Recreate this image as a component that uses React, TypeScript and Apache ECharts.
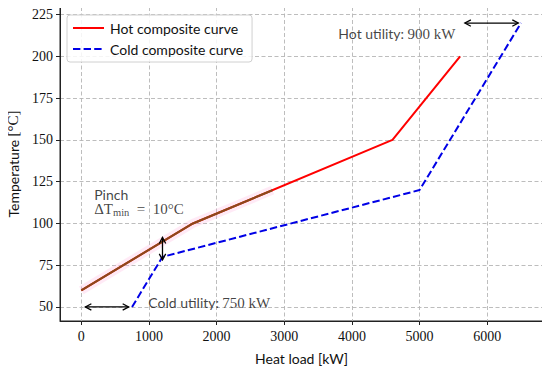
import React, { useEffect, useRef } from "react";
import * as echarts from "echarts";

// Composite curves [heat load kW, temperature °C]
const hotCurve: [number, number][] = [
  [0, 60],
  [1650, 100],
  [4600, 150],
  [5600, 200],
];
const coldCurve: [number, number][] = [
  [750, 50],
  [1200, 80],
  [5000, 120],
  [6500, 220],
];
// brown overlay on the lower part of the hot curve
const brownOverlay: [number, number][] = [
  [0, 60],
  [1650, 100],
  [2825, 119.9],
];
// double arrows [x1, y1, x2, y2]
const arrows: [number, number, number, number][] = [
  [5670, 220, 6460, 220],
  [60, 50, 700, 50],
  [1200, 91.6, 1200, 78.2],
];
// annotation anchors (left-middle of text)
const annotationAnchors: [number, number][] = [
  [3800, 213.6],
  [990, 52.4],
  [190, 113.0],
];
const annotationTexts = [
  "{s|Hot utility:} {r|900 kW}",
  "{s|Cold utility:} {r|750 kW}",
  "{p|Pinch}\n{m|ΔT}{sub|min}{m|  =  10°C}",
];
const xTicks = [0, 1000, 2000, 3000, 4000, 5000, 6000];
const yTicks = [50, 75, 100, 125, 150, 175, 200, 225];

const SERIF = "'Liberation Serif', 'DejaVu Serif', serif";
const SANS = "Lato, 'DejaVu Sans', sans-serif";

export default function App() {
  const ref = useRef<HTMLDivElement>(null);
  useEffect(() => {
    if (!ref.current) return;
    const chart = echarts.init(ref.current, undefined, { renderer: "svg" });
    const rich = {
      s: { fontFamily: SANS, fontSize: 14, color: "#111", lineHeight: 14 },
      r: { fontFamily: SERIF, fontSize: 15, color: "#111", lineHeight: 14 },
      p: { fontFamily: SANS, fontSize: 14, color: "#111", lineHeight: 15 },
      m: { fontFamily: SERIF, fontSize: 15, color: "#111", lineHeight: 15 },
      sub: { fontFamily: SERIF, fontSize: 10.5, color: "#111", lineHeight: 10, padding: [7, 0, 0, 0] },
    };
    const gridLine = { show: true, lineStyle: { color: "#b5b5b5", type: [4, 2.5] as any, width: 0.9 } };
    chart.setOption({
      animation: false,
      backgroundColor: "#fff",
      grid: {
        left: 60,
        right: 7,
        top: 7,
        bottom: 49,
        containLabel: false,
        outerBoundsMode: "none",
        show: true,
        borderColor: "#222",
        borderWidth: 1,
        backgroundColor: "transparent",
      },
      legend: {
        data: ["Hot composite curve", "Cold composite curve"],
        orient: "vertical",
        left: 67,
        top: 15,
        padding: [6, 9, 6, 5],
        itemWidth: 31,
        itemHeight: 14,
        itemGap: 7,
        itemStyle: { opacity: 0 },
        backgroundColor: "rgba(255,255,255,0.85)",
        borderColor: "#d0d0d0",
        borderWidth: 1,
        borderRadius: 3,
        textStyle: { fontFamily: SANS, fontSize: 14, color: "#111", padding: [0, 0, 0, 1] },
      },
      xAxis: {
        type: "value",
        min: -315,
        max: 6825,
        minInterval: 1000,
        maxInterval: 1000,
        name: "Heat load [kW]",
        nameLocation: "middle",
        nameGap: 30,
        nameTextStyle: { fontFamily: SANS, fontSize: 14, color: "#111" },
        axisLine: { show: true, onZero: false, lineStyle: { color: "#222" } },
        axisTick: { show: true, length: 4, lineStyle: { color: "#222" } },
        axisLabel: {
          fontFamily: SERIF,
          fontSize: 14,
          color: "#111",
          margin: 8,
          showMinLabel: false,
          showMaxLabel: false,
          formatter: (v: number) => (xTicks.includes(v) ? String(v) : ""),
        },
        splitLine: gridLine,
      },
      yAxis: {
        type: "value",
        min: 41.6,
        max: 229.6,
        minInterval: 25,
        maxInterval: 25,
        name: "{s|Temperature} {r|[°C]}",
        nameLocation: "middle",
        nameGap: 40,
        nameRotate: 90,
        nameTextStyle: { rich },
        axisLine: { show: true, onZero: false, lineStyle: { color: "#222" } },
        axisTick: { show: true, length: 4, lineStyle: { color: "#222" } },
        axisLabel: {
          fontFamily: SERIF,
          fontSize: 14,
          color: "#111",
          margin: 7,
          showMinLabel: false,
          showMaxLabel: false,
          formatter: (v: number) => (yTicks.includes(v) ? String(v) : ""),
        },
        splitLine: gridLine,
      },
      series: [
        {
          name: "pinkShade",
          type: "line",
          data: brownOverlay,
          symbol: "none",
          itemStyle: { color: "#ffd0ea" },
          lineStyle: { color: "rgba(255,170,220,0.25)", width: 9 },
          z: 1,
          silent: true,
        },
        {
          name: "Hot composite curve",
          type: "line",
          data: hotCurve,
          symbol: "none",
          itemStyle: { color: "#ff0000" },
          lineStyle: { color: "#ff0000", width: 2 },
          z: 3,
        },
        {
          name: "brownOverlay",
          type: "line",
          data: brownOverlay,
          symbol: "none",
          itemStyle: { color: "#8a4a1c" },
          lineStyle: { color: "#8a4a1c", width: 2 },
          z: 4,
        },
        {
          name: "Cold composite curve",
          type: "line",
          data: coldCurve,
          symbol: "none",
          itemStyle: { color: "#0000e6" },
          lineStyle: { color: "#0000e6", width: 2, type: [7.4, 3.2] as any },
          z: 3,
        },
        {
          name: "arrows",
          type: "custom",
          data: arrows,
          encode: { x: [0, 2], y: [1, 3] },
          z: 5,
          renderItem: (_p: any, api: any) => {
            const a = api.coord([api.value(0), api.value(1)]);
            const b = api.coord([api.value(2), api.value(3)]);
            const dx = b[0] - a[0];
            const dy = b[1] - a[1];
            const len = Math.sqrt(dx * dx + dy * dy) || 1;
            const ux = dx / len;
            const uy = dy / len;
            const px = -uy;
            const py = ux;
            const h = 6;
            const w = 3.2;
            const head = (tip: number[], dir: number) => [
              [tip[0] - dir * ux * h + px * w, tip[1] - dir * uy * h + py * w],
              [tip[0], tip[1]],
              [tip[0] - dir * ux * h - px * w, tip[1] - dir * uy * h - py * w],
            ];
            const st = { stroke: "#000", lineWidth: 1.3, fill: "none" };
            return {
              type: "group",
              children: [
                { type: "line", shape: { x1: a[0], y1: a[1], x2: b[0], y2: b[1] }, style: st },
                { type: "polyline", shape: { points: head(a, -1) }, style: st },
                { type: "polyline", shape: { points: head(b, 1) }, style: st },
              ],
            };
          },
        },
        {
          name: "annotations",
          type: "scatter",
          data: annotationAnchors.map((p, i) => ({
            value: p,
            label: {
              show: true,
              position: "right",
              distance: 0,
              formatter: annotationTexts[i],
              rich,
            },
          })),
          symbolSize: 0,
          silent: true,
          z: 6,
        },
      ],
    });
    return () => chart.dispose();
  }, []);
  return <div ref={ref} style={{ width: 550, height: 370, marginLeft: -8, marginTop: -8 }} />;
}
